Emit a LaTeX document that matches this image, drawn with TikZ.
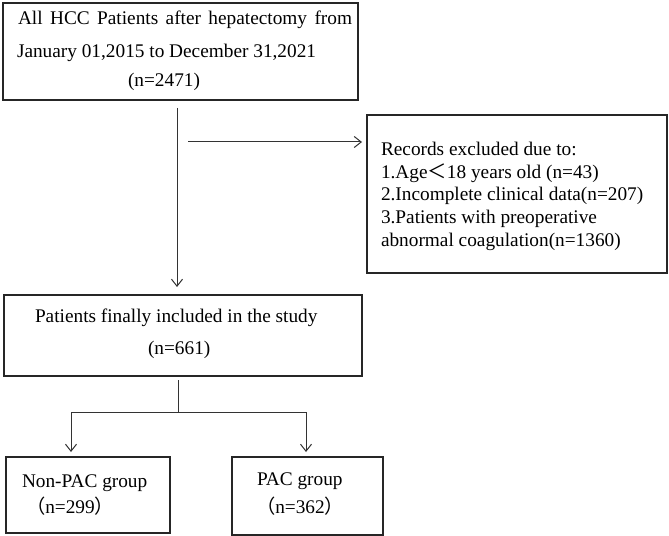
\documentclass[tikz,border=0pt]{standalone}
\usepackage{fontspec}
\setmainfont{Liberation Serif}
\newfontfamily\cjk{Noto Sans CJK SC}
\usetikzlibrary{arrows.meta}
\begin{document}
\begin{tikzpicture}[x=1bp,y=-1bp,
  box/.style={draw=black!85,line width=1.6bp,inner sep=0pt,outer sep=0pt},
  txt/.style={anchor=base west,inner sep=0pt,outer sep=0pt,font=\fontsize{19.3bp}{23bp}\selectfont},
  conn/.style={draw=black!80,line width=1bp,-{Straight Barb[length=7bp,width=11bp,line width=1bp]}},
  plain/.style={draw=black!80,line width=1bp}]
\useasboundingbox[fill=white] (0,0) rectangle (669,536);
% boxes
\node[box,minimum width=355bp,minimum height=97bp] (top) at (180.5,51.5) {};
\node[box,minimum width=300bp,minimum height=158bp] (excl) at (517,194) {};
\node[box,minimum width=358bp,minimum height=81bp] (mid) at (183,335.5) {};
\node[box,minimum width=164bp,minimum height=76bp] (nonpac) at (88,495) {};
\node[box,minimum width=151bp,minimum height=78bp] (pac) at (307.5,496) {};
% texts
\node[txt] (t1) at (18,25) {\makebox[334bp][s]{All HCC Patients after hepatectomy from}};
\node[txt] (t2) at (17,58) {January 01,2015 to December 31,2021};
\node[txt] (t3) at (128,87) {(n=2471)};
\node[txt] (e1) at (381,156) {Records excluded due to:};
\node[txt] (e2) at (381,179) {1.Age{\cjk ＜}18 years old (n=43)};
\node[txt] (e3) at (381,201) {2.Incomplete clinical data(n=207)};
\node[txt] (e4) at (381,224) {3.Patients with preoperative};
\node[txt] (e5) at (381,247) {abnormal coagulation(n=1360)};
\node[txt] (m1) at (35,322) {Patients finally included in the study};
\node[txt] (m2) at (148,354) {(n=661)};
\node[txt] (n1) at (22,487) {Non-PAC group};
\node[txt] (n2) at (26,513) {{\cjk （}n=299{\cjk ）}};
\node[txt] (p1) at (257,485) {PAC group};
\node[txt] (p2) at (256,513) {{\cjk （}n=362{\cjk ）}};
% connectors
\coordinate (vx) at (177,0);
\draw[conn,shorten <=8bp,shorten >=8bp] (top.south -| vx) -- (mid.north -| vx);
\coordinate (hs) at (188,142);
\draw[conn,shorten >=5bp] (hs) -- (hs -| excl.west);
\coordinate (sx) at (178,412);
\draw[plain,shorten <=4bp] (mid.south -| sx) -- (sx);
\coordinate (bl) at (71,412);
\coordinate (br) at (306,412);
\draw[plain] (bl) -- (br);
\draw[conn,shorten >=5bp] (bl) -- (bl |- nonpac.north);
\draw[conn,shorten >=5bp] (br) -- (br |- pac.north);
\end{tikzpicture}
\end{document}
